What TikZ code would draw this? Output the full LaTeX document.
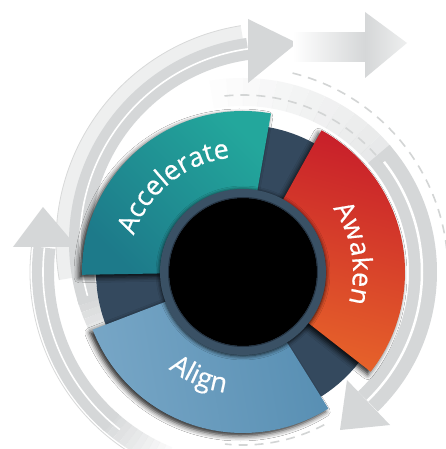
\documentclass[tikz,border=0pt]{standalone}
\usepackage{fontspec}
\setsansfont{Open Sans}
\newfontfamily\labelfamily{Open Sans}[FakeBold=0.5]
\usepackage{xcolor}
\usetikzlibrary{decorations.text,shadows.blur}

\definecolor{navy}{HTML}{34495E}
\definecolor{ringnavy}{HTML}{3A5165}
\definecolor{tealdark}{HTML}{1D7A8A}
\definecolor{teallight}{HTML}{23A79C}
\definecolor{awakenred}{HTML}{C81F2A}
\definecolor{awakenorange}{HTML}{E6622A}
\definecolor{alignlight}{HTML}{77A6C6}
\definecolor{aligndark}{HTML}{588FB3}
\definecolor{bandgrey}{HTML}{D5D7D8}
\definecolor{halogrey}{HTML}{EEEFEF}
\definecolor{dashgrey}{HTML}{D3D5D5}

\newcommand{\labelfont}{\labelfamily\fontsize{27}{27}\selectfont\color{white}}

\tikzset{
  band/.style={line width=22, color=bandgrey},
  stripe/.style={line width=1.6, color=white},
  thinline/.style={line width=0.8, color=halogrey!80!gray},
  dashline/.style={line width=1.6, color=dashgrey, dash pattern=on 9 off 7},
  segshadow/.style={blur shadow={shadow xshift=-3pt, shadow yshift=-3pt,
      shadow blur radius=5pt, shadow opacity=85}},
  seglabel/.style={decorate, decoration={text along path, text align=center,
      text={|\labelfont|#1}}},
}

\begin{document}
\begin{tikzpicture}[x=1pt, y=1pt]
  \fill[white] (-243,-177) rectangle (203,272);
  \useasboundingbox (-243,-177) rectangle (203,272);

  % upper arc arrow
  \begin{scope}[shift={(32,30)}]
    \draw[color=halogrey, line width=14] (190:212) arc[start angle=190, end angle=99, radius=212];
    \draw[thinline] (190:219) arc[start angle=190, end angle=99, radius=219];
    \foreach \a in {0,...,7}
      \draw[band, opacity=0.3+\a*0.1] ({212-\a*2}:195) arc[start angle={212-\a*2}, end angle={210-\a*2}, radius=195];
    \draw[band] (198:195) arc[start angle=198, end angle=98, radius=195];
    \draw[stripe] (196:195) arc[start angle=196, end angle=98, radius=195];
  \end{scope}
  \fill[bandgrey] (5,253) -- (54,229) -- (5,189) -- cycle;

  % straight arrow
  \shade[left color=white, right color=bandgrey] (50,210) rectangle (122,239);
  \shade[left color=bandgrey, right color=halogrey] (122,260) -- (164,229) -- (122,194) -- cycle;

  % lower left arc arrow
  \draw[thinline] (250:213) arc[start angle=250, end angle=172, radius=213];
  \foreach \a in {0,...,9}
    \draw[band, opacity=0.1+\a*0.09] ({248-\a*2}:200) arc[start angle={248-\a*2}, end angle={246-\a*2}, radius=200];
  \draw[band] (229:200) arc[start angle=229, end angle=173, radius=200];
  \draw[stripe] (232:200) arc[start angle=232, end angle=173, radius=200];
  \fill[bandgrey] (-230,25) -- (-200,65) -- (-166,25) -- cycle;

  % right arc arrow
  \foreach \a in {0,...,11}
    \draw[line width=28, color=bandgrey, opacity=0.04+\a*0.045] ({100-\a*5}:180) arc[start angle={100-\a*5}, end angle={95-\a*5}, radius=180];
  \draw[line width=28, color=bandgrey] (41:180) arc[start angle=41, end angle=-46, radius=180];
  \draw[stripe, line width=2.5] (38:179) arc[start angle=38, end angle=-46, radius=179];
  \fill[bandgrey] (104,-108) -- (97,-158) -- (147,-153) -- cycle;

  % dashed tracks
  \draw[dashline] (96:177) arc[start angle=96, end angle=38, radius=177];
  \draw[dashline] (76:205) arc[start angle=76, end angle=-5, radius=205];
  \draw[dashline] (-62:173) arc[start angle=-62, end angle=-96, radius=173];

  % dark wheel
  \fill[navy] (0,0) circle (147);

  % segments
  \path[segshadow, top color=teallight, bottom color=tealdark, shading angle=-45]
    (80:80) arc[start angle=80, end angle=181, radius=80] -- (181:161)
    arc[start angle=181, end angle=80, radius=161] -- cycle;
  \path[segshadow, top color=awakenred, bottom color=awakenorange, shading angle=-15]
    (61:80) arc[start angle=61, end angle=-38, radius=80] -- (-38:162)
    arc[start angle=-38, end angle=61, radius=162] -- cycle;
  \path[segshadow, top color=alignlight, bottom color=aligndark, shading angle=100]
    (201:80) arc[start angle=201, end angle=302, radius=80] -- (302:161)
    arc[start angle=302, end angle=201, radius=161] -- cycle;

  % hub
  \fill[ringnavy, blur shadow={shadow xshift=0pt, shadow yshift=-1pt,
      shadow blur radius=4pt, shadow opacity=90}] (0,0) circle (83);
  \fill[black] (0,0) circle (74);
  \draw[navy!70!black, line width=1] (0,0) circle (74.5);

  % labels
  \path[seglabel=Accelerate] (175:115) arc[start angle=175, end angle=83, radius=115];
  \path[seglabel=Awaken] (55:110) arc[start angle=55, end angle=-36, radius=110];
  \path[seglabel=Align] (-150:122) arc[start angle=-150, end angle=-76, radius=122];
\end{tikzpicture}
\end{document}
